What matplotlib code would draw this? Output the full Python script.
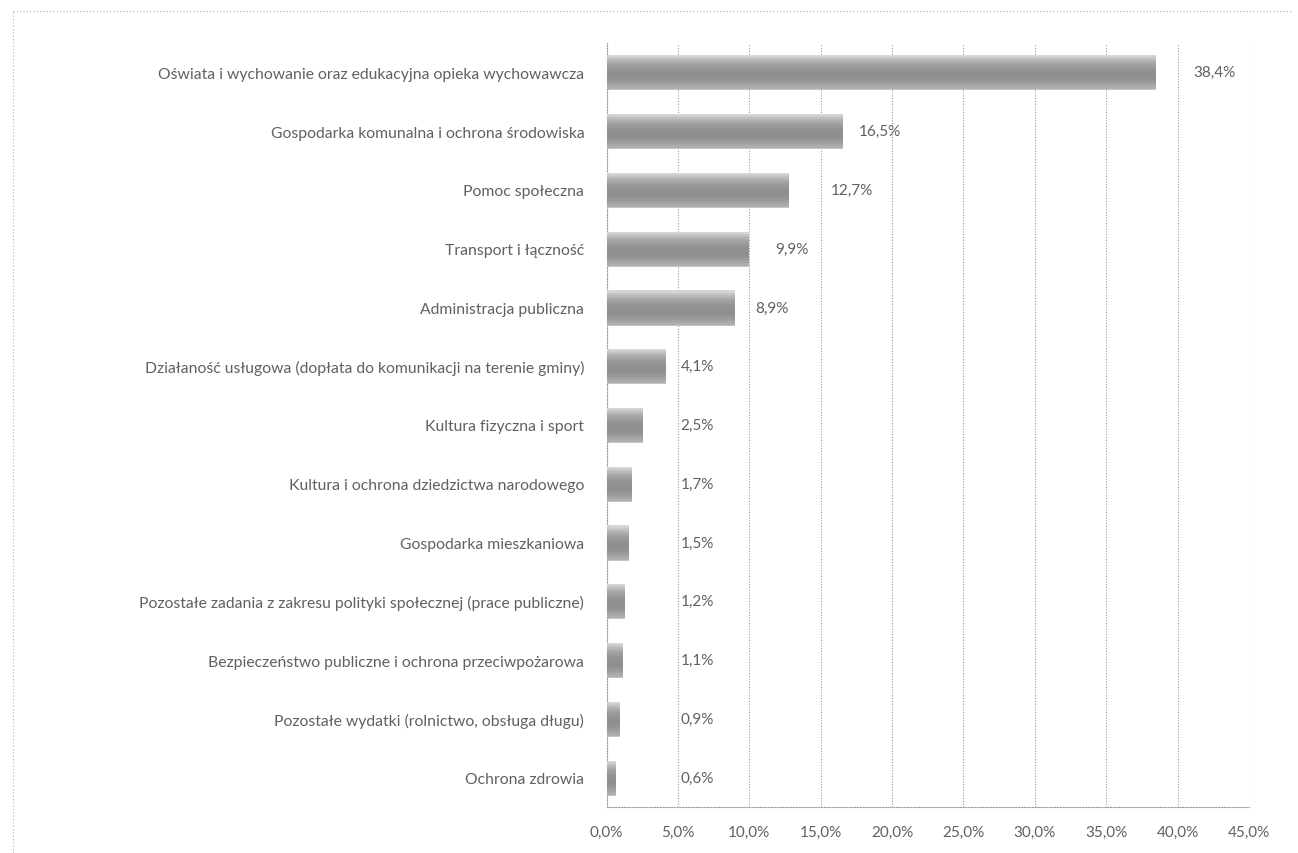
import numpy as np
import matplotlib.pyplot as plt
from matplotlib.lines import Line2D

# ---------------------------------------------------------------- data
categories = [
    'Oświata i wychowanie oraz edukacyjna opieka wychowawcza',
    'Gospodarka komunalna i ochrona środowiska',
    'Pomoc społeczna',
    'Transport i łączność',
    'Administracja publiczna',
    'Działaność usługowa (dopłata do komunikacji na terenie gminy)',
    'Kultura fizyczna i sport',
    'Kultura i ochrona dziedzictwa narodowego',
    'Gospodarka mieszkaniowa',
    'Pozostałe zadania z zakresu polityki społecznej (prace publiczne)',
    'Bezpieczeństwo publiczne i ochrona przeciwpożarowa',
    'Pozostałe wydatki (rolnictwo, obsługa długu)',
    'Ochrona zdrowia',
]
shares = [38.4, 16.5, 12.7, 9.9, 8.9, 4.1, 2.5, 1.7, 1.5, 1.2, 1.1, 0.9, 0.6]
ticks = [0, 5, 10, 15, 20, 25, 30, 35, 40, 45]

# hand-placed label positions (x, in %) as in the original chart
label_x = [41.1, 17.7, 15.7, 11.8, 10.4, 5.2, 5.2, 5.2, 5.2, 5.2, 5.2, 5.2, 5.2]

# ---------------------------------------------------------------- style
FONT = ['Lato', 'DejaVu Sans']
TXT = '#606060'
GRID = '#9a9a9a'
plt.rcParams['font.family'] = FONT

fig = plt.figure(figsize=(12.98, 8.54), dpi=100)
ax = fig.add_axes([606.5 / 1298, 1 - 808 / 854, (1249 - 606.5) / 1298, (808 - 44) / 854])

y = np.arange(len(categories))
bars = ax.barh(y, shares, height=0.58, color='#a0a0a0', edgecolor='#c4c4c4',
               linewidth=0.6, zorder=3)

# vertical grey gradient on each bar (light top, dark middle/bottom)
grad = np.array([0.84, 0.74, 0.66, 0.61, 0.58, 0.56, 0.56, 0.58, 0.62, 0.68])[:, None]
for b in bars:
    x0, y0 = b.get_x(), b.get_y()
    im = ax.imshow(grad, cmap='gray', vmin=0, vmax=1, aspect='auto',
                   extent=[x0, x0 + b.get_width(), y0 + b.get_height(), y0],
                   interpolation='bilinear', zorder=3)
    im.set_clip_path(b)

for yi, v, lx in zip(y, shares, label_x):
    ax.text(lx, yi, f'{v:.1f}%'.replace('.', ','), va='center', ha='left',
            fontsize=11, color=TXT)

ax.set_xlim(0, 45)
ax.set_ylim(len(categories) - 0.5, -0.5)
ax.set_xticks(ticks)
ax.set_xticklabels([f'{t:.1f}%'.replace('.', ',') for t in ticks], fontsize=11, color=TXT)
ax.set_yticks(y)
ax.set_yticklabels(categories, fontsize=11.3, color=TXT)
ax.tick_params(length=0, pad=16)
ax.tick_params(axis='x', pad=13)

ax.grid(axis='x', color=GRID, linestyle=(0, (1, 1.5)), linewidth=0.8, zorder=0)
for s in ['top', 'right']:
    ax.spines[s].set_visible(False)
for s in ['left', 'bottom']:
    ax.spines[s].set_color(GRID)
    ax.spines[s].set_linestyle((0, (1, 1.5)))
    ax.spines[s].set_linewidth(0.8)

# dotted outer frame of the chart object
fig.add_artist(Line2D([13 / 1298, 1292 / 1298], [1 - 12 / 854] * 2, color='#b0b0b0',
                      linestyle=(0, (1, 2)), linewidth=0.8))
fig.add_artist(Line2D([13 / 1298] * 2, [0, 1 - 12 / 854], color='#b0b0b0',
                      linestyle=(0, (1, 2)), linewidth=0.8))

fig.savefig('out.png', dpi=100)
